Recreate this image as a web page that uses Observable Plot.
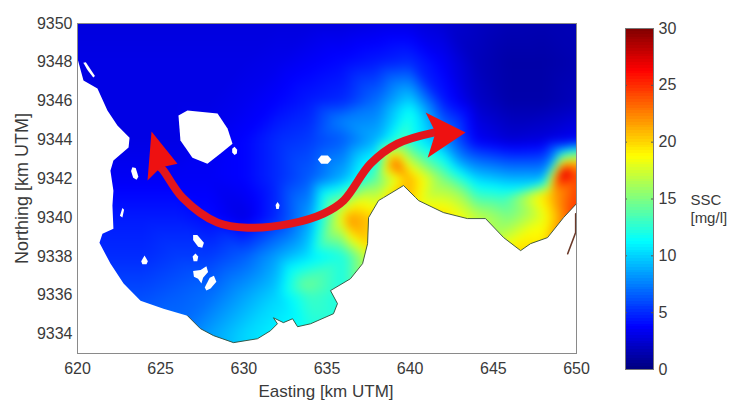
<!DOCTYPE html>
<html><head><meta charset="utf-8">
<script src="https://cdn.jsdelivr.net/npm/d3@7"></script>
<script src="https://cdn.jsdelivr.net/npm/@observablehq/plot@0.6"></script>
<style>
html,body{margin:0;padding:0;background:#fff}
#c{position:relative;width:733px;height:403px;overflow:hidden}
#c svg{position:absolute;left:0;top:0;background:transparent;font-family:"Liberation Sans",Arial,sans-serif}
</style></head><body><div id="c"></div>
<script>
const eastings = [620,622,624,626,628,630,632,634,636,638,640,642,644,646,648,650];
const northings = [9350,9348,9346,9344,9342,9340,9338,9336,9334,9333];
const sscRows = [
 [2.8,2.8,2.8,2.8,2.8,2.8,2.8,2.8,2.8,3,3,2.5,2,1.6,1.5,1.6],
 [3,3,3,3,3,3,3.2,3.6,4,4.5,5,3.5,1.8,1.2,1.2,1.5],
 [3,3,3,3,3,3.3,3.8,4.5,5,7,10,4.5,2.2,1.3,1.3,1.8],
 [3,3,3,3,3.3,3.8,5,5.5,6.5,9,12,8,3.5,2.5,2.8,3.5],
 [3.5,3.5,3.5,3.5,3.5,3.8,5,6.5,9,14,21,15,10,9,9,24],
 [4.5,4.5,4.5,4.5,4,3,5,8.5,19,20,20,20,17,15,18,25],
 [5,5,5,5.5,5.5,6.5,8.5,10.5,12,19,19,19,18,20,20,25],
 [6,6,6,6.5,7,8.5,10,13,12,13,15,15,15,15,15,15],
 [7,7,7,7,8.5,10,11,12,12,12,12,12,12,12,12,12],
 [7,7,7,7,8.5,10,11,12,12,12,12,12,12,12,12,12]
];
const extraE = [639.1,636.2,649.2,650,649,648.5,640,635.8,643,645.5,633.7,643,639.6];
const extraN = [9342.8,9339.9,9342.3,9342.9,9343.5,9341.2,9345.5,9345,9341.2,9341,9336.5,9343,9343.8];
const extraS = [24,22,28.5,20,8,21,11.5,7.5,16,13,14.5,8,14];

const coastE = [620,620.36,621.2,621.8,622.4,623.13,623.07,622.16,621.98,622.16,622.1,622.16,621.5,621.32,621.98,622.77,623.79,625.17,626.61,627.39,628.18,629.38,630.82,631.6,632.02,631.78,632.38,632.93,633.23,634.01,635.39,635.63,635.21,636.41,637.14,637.44,637.5,638.1,638.4,639.6,640.33,640.5,642,643.44,644.53,645.62,646.64,647.24,648.26,649.22,650];
const coastN = [9348.2,9347.06,9346.65,9345.52,9344.74,9344.12,9343.61,9342.94,9342.42,9341.39,9340.62,9339.43,9339.17,9338.71,9337.63,9336.6,9335.72,9335.31,9334.95,9334.28,9333.92,9333.56,9333.76,9334.17,9334.53,9334.84,9334.59,9334.79,9334.38,9334.53,9335.05,9335.57,9336.24,9336.85,9337.63,9338.66,9340,9340.88,9341.03,9341.65,9341.03,9340.88,9340.26,9339.95,9339.95,9338.97,9338.3,9338.66,9338.97,9340,9340.72];
const strokedCoastStart = 18;
const islands = [
 [[626.07,9345.26],[626.61,9345.52],[628.42,9345.36],[629.02,9344.59],[629.32,9343.81],[628.6,9343.3],[627.81,9342.78],[626.91,9343.09],[626.19,9343.97]],
 [[629.44,9343.65],[629.6,9343.5],[629.58,9343.3],[629.44,9343.22],[629.3,9343.35],[629.3,9343.55]],
 [[623.3,9342.6],[623.5,9342.55],[623.66,9342.1],[623.55,9341.95],[623.35,9342.05],[623.22,9342.4]],
 [[620.35,9347.98],[620.5,9348],[621.05,9347.3],[620.95,9347.22],[620.6,9347.6]],
 [[634.45,9343],[634.65,9343.2],[635.05,9343.2],[635.27,9343],[635.05,9342.78],[634.65,9342.78]],
 [[631.91,9340.65],[632.03,9340.8],[632.15,9340.65],[632.1,9340.45],[631.95,9340.45]],
 [[626.95,9339.1],[627.2,9339.1],[627.6,9338.7],[627.5,9338.45],[627.25,9338.5],[626.95,9338.85]],
 [[626.92,9338],[627.09,9338.15],[627.26,9338],[627.2,9337.75],[626.98,9337.75]],
 [[623.83,9337.75],[624.03,9338.05],[624.23,9337.75],[624.15,9337.6],[623.9,9337.6]],
 [[626.95,9337.25],[627.4,9337.3],[627.75,9337.5],[627.85,9337.2],[627.55,9336.9],[627.45,9336.6],[627.25,9336.85],[627,9336.95]],
 [[627.65,9336.4],[627.95,9336.9],[628.2,9337],[628.35,9336.7],[628,9336.35],[627.75,9336.25]],
 [[622.55,9340.1],[622.7,9340.5],[622.8,9340.4],[622.7,9340]]
];
const riverE = [649.95,649.95,649.47];
const riverN = [9340.2,9339.23,9338.14];
const flowE = [624.99,625.17,626.31,628.42,630.22,632.81,634.79,636,637.62,639.24,641.41];
const flowN = [9342.58,9342.42,9341.03,9339.74,9339.48,9339.69,9340.21,9340.88,9342.78,9343.81,9344.38];
const headWest = [[624.45,9344.43],[626.01,9342.78],[624.99,9342.58],[624.21,9341.91]];
const headEast = [[643.33,9344.38],[640.93,9345.41],[641.53,9344.38],[641.05,9343.09]];
const xTicks = [620,625,630,635,640,645,650];
const yTicks = [9334,9336,9338,9340,9342,9344,9346,9348,9350];
const barTicks = [0,5,10,15,20,25,30];
const jetStops = [0,3.75,11.25,18.75,26.25,30];
const jetColors = ["#00007f","#0000ff","#00ffff","#ffff00","#ff0000","#7f0000"];

const samples = [];
northings.forEach((n,i)=>eastings.forEach((e,j)=>samples.push({e,n,s:sscRows[i][j]})));
extraE.forEach((e,i)=>samples.push({e,n:extraN[i],s:extraS[i]}));
const land = coastE.map((e,i)=>[e,coastN[i]]).concat([[650,9333],[620,9333]]);
const coastLine = coastE.map((e,i)=>[e,coastN[i]]).slice(strokedCoastStart);
const islandPts = islands.flatMap((p,id)=>p.map(([e,n])=>({e,n,id})));
const flow = flowE.map((e,i)=>[e,flowN[i]]);
const river = riverE.map((e,i)=>[e,riverN[i]]);
const color = {type:"linear",domain:jetStops,range:jetColors,interpolate:"rgb"};
const FS = 16;
const grey = "#3a3a3a";
const fontFamily = "'Liberation Sans',Arial,sans-serif";

const main = Plot.plot({
  width:733,height:403,marginLeft:77,marginRight:157,marginTop:23,marginBottom:50,
  x:{domain:[620,650]},y:{domain:[9333,9350]},color,
  style:{fontSize:FS+"px",fontFamily,color:grey,background:"transparent"},
  marks:[
    Plot.raster(samples,{x:"e",y:"n",fill:"s",interpolate:"barycentric",blur:4,pixelSize:1}),
    Plot.line(land,{x:d=>d[0],y:d=>d[1],fill:"white",stroke:"none"}),
    Plot.line(islandPts,{x:"e",y:"n",z:"id",fill:"white",stroke:"none"}),
    Plot.line(coastLine,{x:d=>d[0],y:d=>d[1],stroke:"#2f4a35",strokeWidth:0.9}),
    Plot.line(river,{x:d=>d[0],y:d=>d[1],stroke:"#6b3a2a",strokeWidth:1.6}),
    Plot.line(flow,{x:d=>d[0],y:d=>d[1],stroke:"#e3161c",strokeWidth:8,curve:"catmull-rom"}),
    Plot.line(headWest,{x:d=>d[0],y:d=>d[1],fill:"#ee1111",stroke:"none"}),
    Plot.line(headEast,{x:d=>d[0],y:d=>d[1],fill:"#ee1111",stroke:"none"}),
    Plot.frame({stroke:"#8a8a8a",strokeWidth:1}),
    Plot.axisX({ticks:xTicks,tickFormat:d=>String(d),tickSize:0,tickPadding:9,label:null,fontSize:FS}),
    Plot.axisY({ticks:yTicks,tickFormat:d=>String(d),tickSize:0,tickPadding:5,label:null,fontSize:FS}),
    Plot.text(["Easting [km UTM]"],{frameAnchor:"bottom",lineAnchor:"middle",dy:38,dx:-1,fontSize:17,fill:grey}),
    Plot.text(["Northing [km UTM]"],{frameAnchor:"left",textAnchor:"middle",lineAnchor:"middle",dx:-55,rotate:-90,fontSize:18,fill:grey})
  ]
});

const levels = d3.range(0,30,0.25);
const bar = Plot.plot({
  width:733,height:403,marginLeft:625,marginRight:80,marginTop:28,marginBottom:34,
  x:{domain:[0,1],axis:null},y:{domain:[0,30]},color,
  style:{fontSize:FS+"px",fontFamily,color:grey,background:"transparent"},
  marks:[
    Plot.rect(levels,{x1:0,x2:1,y1:d=>d,y2:d=>d+0.25,fill:d=>d+0.125,shapeRendering:"crispEdges"}),
    Plot.ruleY(barTicks,{x1:0,x2:0.07,stroke:"#555",strokeWidth:1}),
    Plot.ruleY(barTicks,{x1:0.93,x2:1,stroke:"#555",strokeWidth:1}),
    Plot.frame({stroke:"#777",strokeWidth:1}),
    Plot.axisY({anchor:"right",ticks:barTicks,tickFormat:d=>String(d),tickSize:0,tickPadding:5,label:null,fontSize:FS}),
    Plot.text(["SSC\n[mg/l]"],{x:2.32,y:14.2,textAnchor:"start",lineHeight:1.22,fontSize:15,fill:grey,clip:false})
  ]
});
document.getElementById("c").append(main,bar);
</script></body></html>
